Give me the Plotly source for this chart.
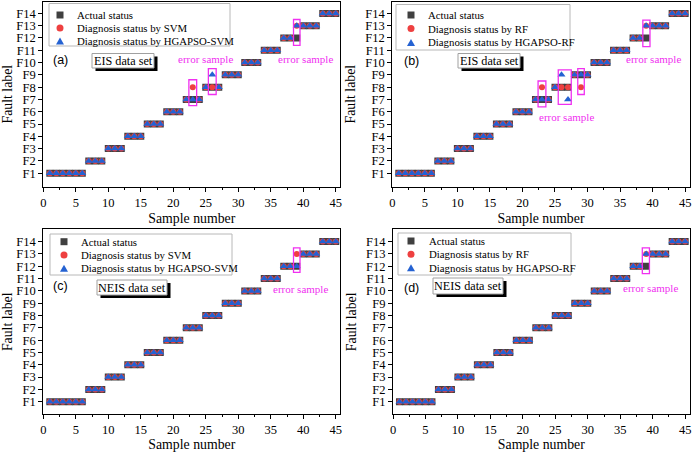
import plotly.graph_objects as go

# sample numbers and fault labels
samples = [1, 2, 3, 4, 5, 6, 7, 8, 9, 10, 11, 12, 13, 14, 15, 16, 17, 18, 19, 20, 21, 22, 23,
           24, 25, 26, 27, 28, 29, 30, 31, 32, 33, 34, 35, 36, 37, 38, 39, 40, 41, 42, 43, 44, 45]
fault_labels = ["F1", "F2", "F3", "F4", "F5", "F6", "F7", "F8", "F9", "F10", "F11", "F12", "F13", "F14"]
fault_ticks = [1, 2, 3, 4, 5, 6, 7, 8, 9, 10, 11, 12, 13, 14]
x_ticks = [0, 5, 10, 15, 20, 25, 30, 35, 40, 45]

actual = [1, 1, 1, 1, 1, 1, 2, 2, 2, 3, 3, 3, 4, 4, 4, 5, 5, 5, 6, 6, 6, 7, 7, 7,
          8, 8, 8, 9, 9, 9, 10, 10, 10, 11, 11, 11, 12, 12, 12, 13, 13, 13, 14, 14, 14]

# (a) EIS data set
svm_eis = [1, 1, 1, 1, 1, 1, 2, 2, 2, 3, 3, 3, 4, 4, 4, 5, 5, 5, 6, 6, 6, 7, 8, 7,
           8, 8, 8, 9, 9, 9, 10, 10, 10, 11, 11, 11, 12, 12, 13, 13, 13, 13, 14, 14, 14]
hgapso_svm_eis = [1, 1, 1, 1, 1, 1, 2, 2, 2, 3, 3, 3, 4, 4, 4, 5, 5, 5, 6, 6, 6, 7, 7, 7,
                  8, 9, 8, 9, 9, 9, 10, 10, 10, 11, 11, 11, 12, 12, 13, 13, 13, 13, 14, 14, 14]
# (b) EIS data set
rf_eis = [1, 1, 1, 1, 1, 1, 2, 2, 2, 3, 3, 3, 4, 4, 4, 5, 5, 5, 6, 6, 6, 7, 8, 7,
          8, 8, 8, 9, 8, 9, 10, 10, 10, 11, 11, 11, 12, 12, 13, 13, 13, 13, 14, 14, 14]
hgapso_rf_eis = [1, 1, 1, 1, 1, 1, 2, 2, 2, 3, 3, 3, 4, 4, 4, 5, 5, 5, 6, 6, 6, 7, 7, 7,
                 8, 9, 7, 9, 9, 9, 10, 10, 10, 11, 11, 11, 12, 12, 13, 13, 13, 13, 14, 14, 14]
# (c) NEIS data set
svm_neis = [1, 1, 1, 1, 1, 1, 2, 2, 2, 3, 3, 3, 4, 4, 4, 5, 5, 5, 6, 6, 6, 7, 7, 7,
            8, 8, 8, 9, 9, 9, 10, 10, 10, 11, 11, 11, 12, 12, 13, 13, 13, 13, 14, 14, 14]
hgapso_svm_neis = [1, 1, 1, 1, 1, 1, 2, 2, 2, 3, 3, 3, 4, 4, 4, 5, 5, 5, 6, 6, 6, 7, 7, 7,
                   8, 8, 8, 9, 9, 9, 10, 10, 10, 11, 11, 11, 12, 12, 12, 13, 13, 13, 14, 14, 14]
# (d) NEIS data set
rf_neis = [1, 1, 1, 1, 1, 1, 2, 2, 2, 3, 3, 3, 4, 4, 4, 5, 5, 5, 6, 6, 6, 7, 7, 7,
           8, 8, 8, 9, 9, 9, 10, 10, 10, 11, 11, 11, 12, 12, 13, 13, 13, 13, 14, 14, 14]
hgapso_rf_neis = [1, 1, 1, 1, 1, 1, 2, 2, 2, 3, 3, 3, 4, 4, 4, 5, 5, 5, 6, 6, 6, 7, 7, 7,
                  8, 8, 8, 9, 9, 9, 10, 10, 10, 11, 11, 11, 12, 12, 13, 13, 13, 13, 14, 14, 14]

W, H = 693, 452
SERIF = "Liberation Serif"
GRAY = "#404040"
RED = "#ee4040"
BLUE = "#2462d2"
MAGENTA = "#f030f0"


def fx(p):
    return p / W


def fy(p):
    return 1 - p / H


panels = [
    dict(pred=svm_eis, hg=hgapso_svm_eis, method="SVM", label="(a)", dataset="EIS data set",
         xd=(43.3, 340.3), yd=(1.7, 186.7), yr=[-0.1, 14.95],
         legbox=(49, 230, 3.5, 46), legrows=(15, 28, 41), legmx=60, legtx=75,
         lab=(60, 60), dbox=(92, 154, 53.5, 68),
         errs=[(22.4, 23.6, 6.5, 8.6), (25.4, 26.6, 7.4, 9.5), (38.5, 39.5, 11.4, 13.5)],
         errtxt=[(24.9, 10.3), (40.4, 10.3)]),
    dict(pred=rf_eis, hg=hgapso_rf_eis, method="RF", label="(b)", dataset="EIS data set",
         xd=(392.3, 689.7), yd=(1.7, 186.7), yr=[-0.1, 14.95],
         legbox=(396, 570, 4.5, 50), legrows=(15, 28.5, 42.5), legmx=411, legtx=426,
         lab=(411, 61), dbox=(458, 520, 53.5, 68),
         errs=[(22.4, 23.6, 6.4, 8.5), (25.5, 27.5, 6.6, 9.4), (28.5, 29.5, 7.4, 9.5),
               (38.5, 39.6, 11.3, 13.45)],
         errtxt=[(26.7, 5.55), (40.2, 10.26)]),
    dict(pred=svm_neis, hg=hgapso_svm_neis, method="SVM", label="(c)", dataset="NEIS data set",
         xd=(43.3, 340.3), yd=(229.3, 414.3), yr=[-0.02, 15],
         legbox=(50, 232, 234, 275), legrows=(241.7, 255, 268.3), legmx=64, legtx=79,
         lab=(60, 286), dbox=(97, 167, 280, 295),
         errs=[(38.5, 39.5, 11.5, 13.5)],
         errtxt=[(39.6, 10.16)]),
    dict(pred=rf_neis, hg=hgapso_rf_neis, method="RF", label="(d)", dataset="NEIS data set",
         xd=(393, 689.7), yd=(229.3, 414.3), yr=[-0.02, 15],
         legbox=(398, 571, 233, 275), legrows=(241, 254.3, 267.7), legmx=411, legtx=427,
         lab=(411, 288), dbox=(433, 503, 278, 294),
         errs=[(38.4, 39.5, 11.4, 13.5)],
         errtxt=[(39.6, 10.24)]),
]

fig = go.Figure()
shapes = []
annotations = []
layout = {}

for i, p in enumerate(panels, start=1):
    sfx = "" if i == 1 else str(i)
    xa, ya = "x" + sfx, "y" + sfx

    fig.add_trace(go.Scatter(x=samples, y=actual, mode="markers", name="Actual status",
                             marker=dict(symbol="square", size=7, color=GRAY),
                             xaxis=xa, yaxis=ya, showlegend=False))
    fig.add_trace(go.Scatter(x=samples, y=p["pred"], mode="markers",
                             name="Diagnosis status by " + p["method"],
                             marker=dict(symbol="circle", size=6, color=RED),
                             xaxis=xa, yaxis=ya, showlegend=False))
    fig.add_trace(go.Scatter(x=samples, y=p["hg"], mode="markers",
                             name="Diagnosis status by HGAPSO-" + p["method"],
                             marker=dict(symbol="triangle-up", size=7, color=BLUE),
                             xaxis=xa, yaxis=ya, showlegend=False))

    xdom = [fx(p["xd"][0]), fx(p["xd"][1])]
    ydom = [fy(p["yd"][1]), fy(p["yd"][0])]
    layout["xaxis" + sfx] = dict(
        domain=xdom, anchor=ya, range=[0, 45.7], tickvals=x_ticks, automargin=False,
        ticks="outside", ticklen=4, tickcolor="black",
        minor=dict(dtick=2.5, ticks="outside", ticklen=2, tickcolor="black"),
        showline=True, linecolor="black", linewidth=1, mirror=True,
        showgrid=False, zeroline=False,
        tickfont=dict(family=SERIF, size=12.5, color="black"),
        title=dict(text="Sample number", font=dict(family=SERIF, size=13.8, color="black"), standoff=4))
    layout["yaxis" + sfx] = dict(
        domain=ydom, anchor=xa, range=p["yr"], tickvals=fault_ticks, ticktext=fault_labels,
        automargin=False, ticks="outside", ticklen=4, tickcolor="black",
        showline=True, linecolor="black", linewidth=1, mirror=True,
        showgrid=False, zeroline=False,
        tickfont=dict(family=SERIF, size=12.5, color="black"),
        title=dict(text="Fault label", font=dict(family=SERIF, size=13.8, color="black"), standoff=6))
    # inward ticks on the top and right edges
    layout["xaxis" + str(i + 4)] = dict(
        overlaying=xa, side="top", anchor=ya, range=[0, 45.7], tickvals=x_ticks,
        automargin=False, ticks="inside", ticklen=4, tickcolor="black", showticklabels=False,
        minor=dict(dtick=2.5, ticks="inside", ticklen=2, tickcolor="black"),
        showgrid=False, zeroline=False, showline=False)
    layout["yaxis" + str(i + 4)] = dict(
        overlaying=ya, side="right", anchor=xa, range=p["yr"], tickvals=fault_ticks,
        automargin=False, ticks="inside", ticklen=4, tickcolor="black", showticklabels=False,
        minor=dict(dtick=0.5, ticks="inside", ticklen=2, tickcolor="black"),
        showgrid=False, zeroline=False, showline=False)

    # error sample boxes
    for x0, x1, y0, y1 in p["errs"]:
        shapes.append(dict(type="rect", xref=xa, yref=ya, x0=x0, x1=x1, y0=y0, y1=y1,
                           line=dict(color=MAGENTA, width=1.3), layer="above"))
    for tx, ty in p["errtxt"]:
        annotations.append(dict(x=tx, y=ty, xref=xa, yref=ya, text="error sample",
                                xanchor="center", yanchor="middle", showarrow=False,
                                font=dict(family=SERIF, size=11, color=MAGENTA)))

    # legend box
    lx0, lx1, ly0, ly1 = p["legbox"]
    shapes.append(dict(type="rect", xref="paper", yref="paper", x0=fx(lx0), x1=fx(lx1),
                       y0=fy(ly1), y1=fy(ly0), fillcolor="white",
                       line=dict(color="#b8b8b8", width=1), layer="above"))
    r1, r2, r3 = p["legrows"]
    mx = fx(p["legmx"])
    shapes.append(dict(type="rect", xref="paper", yref="paper", xsizemode="pixel", ysizemode="pixel",
                       xanchor=mx, yanchor=fy(r1), x0=-3.5, x1=3.5, y0=-3.5, y1=3.5,
                       fillcolor=GRAY, line=dict(width=0), layer="above"))
    shapes.append(dict(type="circle", xref="paper", yref="paper", xsizemode="pixel", ysizemode="pixel",
                       xanchor=mx, yanchor=fy(r2), x0=-3.5, x1=3.5, y0=-3.5, y1=3.5,
                       fillcolor=RED, line=dict(width=0), layer="above"))
    shapes.append(dict(type="path", xref="paper", yref="paper", xsizemode="pixel", ysizemode="pixel",
                       xanchor=mx, yanchor=fy(r3), path="M -4,-3.5 L 4,-3.5 L 0,3.5 Z",
                       fillcolor=BLUE, line=dict(width=0), layer="above"))
    leg_texts = ["Actual status", "Diagnosis status by " + p["method"],
                 "Diagnosis status by HGAPSO-" + p["method"]]
    for txt, row in zip(leg_texts, p["legrows"]):
        annotations.append(dict(x=fx(p["legtx"]), y=fy(row), xref="paper", yref="paper",
                                xanchor="left", yanchor="middle", text=txt, showarrow=False,
                                font=dict(family=SERIF, size=10.8, color="black")))

    # panel label
    annotations.append(dict(x=fx(p["lab"][0]), y=fy(p["lab"][1]), xref="paper", yref="paper",
                            xanchor="center", yanchor="middle", text=p["label"], showarrow=False,
                            font=dict(family="Liberation Sans", size=12.5, color="black")))

    # data set box with shadow
    bx0, bx1, by0, by1 = p["dbox"]
    shapes.append(dict(type="rect", xref="paper", yref="paper", x0=fx(bx0 + 3.5), x1=fx(bx1 + 3.5),
                       y0=fy(by1 + 3), y1=fy(by0 + 3), fillcolor="black", line=dict(width=0),
                       layer="above"))
    shapes.append(dict(type="rect", xref="paper", yref="paper", x0=fx(bx0), x1=fx(bx1),
                       y0=fy(by1), y1=fy(by0), fillcolor="white",
                       line=dict(color="#a0a0a0", width=1), layer="above"))
    annotations.append(dict(x=fx((bx0 + bx1) / 2), y=fy((by0 + by1) / 2), xref="paper", yref="paper",
                            xanchor="center", yanchor="middle", text=p["dataset"], showarrow=False,
                            font=dict(family=SERIF, size=12.2, color="black")))

fig.update_layout(**layout)
fig.update_layout(
    width=W, height=H,
    margin=dict(l=0, r=0, t=0, b=0),
    paper_bgcolor="white", plot_bgcolor="white",
    showlegend=False,
    shapes=shapes, annotations=annotations,
)

# the page has a default 8px body margin; drop it so the figure fills the window
fig.write_html("out.html", config={"displayModeBar": False},
               post_script="document.body.style.margin = '0px';")
